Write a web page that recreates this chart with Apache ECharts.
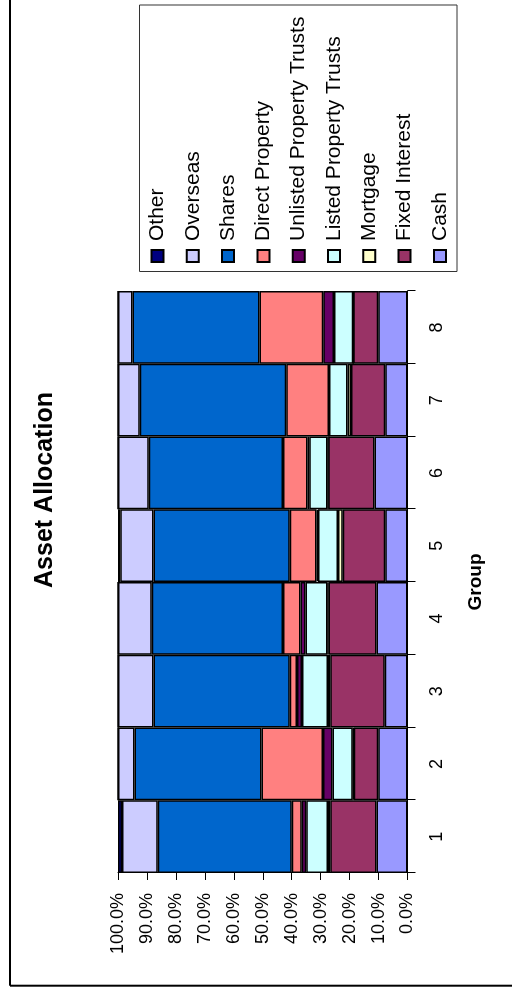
<!DOCTYPE html>
<html>
<head>
<meta charset="utf-8">
<script src="https://cdn.jsdelivr.net/npm/echarts@6/dist/echarts.min.js"></script>
<style>
  html, body { margin: 0; padding: 0; background: #ffffff; overflow: hidden; }
  #stage { position: absolute; left: 0; top: 0; width: 512px; height: 989px; overflow: hidden; }
  /* the chart is laid out landscape and turned a quarter turn anticlockwise */
  #chart {
    position: absolute; left: 0; top: 0;
    width: 989px; height: 512px;
    transform-origin: 0 0;
    transform: translate(0px, 989px) rotate(-90deg);
  }
</style>
</head>
<body>
<div id="stage"><div id="chart"></div></div>
<script>
// Asset allocation per group, in percent of the total
const categories = ['1', '2', '3', '4', '5', '6', '7', '8'];
const cash           = [10.7, 10.1,  7.9, 10.7,  7.7, 11.4,  7.7, 10.1];
const fixedInterest  = [16.0,  8.5, 18.8, 16.6, 14.7, 16.0, 11.8,  8.6];
const mortgage       = [ 0.8,  0.3,  0.8,  0.3,  1.6,  0.2,  1.2,  0.0];
const listedPT       = [ 7.5,  7.0,  8.9,  7.6,  6.9,  6.3,  6.4,  6.7];
const unlistedPT     = [ 1.5,  3.3,  1.8,  1.8,  0.5,  0.6,  0.0,  3.7];
const directProperty = [ 3.5, 21.2,  2.5,  6.0,  9.3,  8.5, 14.8, 22.0];
const shares         = [46.3, 43.9, 47.0, 45.3, 47.0, 46.4, 50.6, 43.9];
const overseas       = [12.3,  5.7, 12.3, 11.7, 11.5, 10.6,  7.5,  5.0];
const other          = [ 1.4,  0.0,  0.0,  0.0,  0.8,  0.0,  0.0,  0.0];
const valueTicks = [0, 10, 20, 30, 40, 50, 60, 70, 80, 90, 100];

const FONT = '"Liberation Sans", Arial, sans-serif';

// stacking order, bottom to top
const seriesDefs = [
  { name: 'Cash', data: cash, color: '#9999FF' },
  { name: 'Fixed Interest', data: fixedInterest, color: '#993366' },
  { name: 'Mortgage', data: mortgage, color: '#FFFFCC' },
  { name: 'Listed Property Trusts', data: listedPT, color: '#CCFFFF' },
  { name: 'Unlisted Property Trusts', data: unlistedPT, color: '#660066' },
  { name: 'Direct Property', data: directProperty, color: '#FF8080' },
  { name: 'Shares', data: shares, color: '#0066CC' },
  { name: 'Overseas', data: overseas, color: '#CCCCFF' },
  { name: 'Other', data: other, color: '#000080' }
];

const chart = echarts.init(document.getElementById('chart'), null, { renderer: 'canvas' });

chart.setOption({
  backgroundColor: '#ffffff',
  animation: false,
  textStyle: { fontFamily: FONT },
  grid: { left: 116, top: 118, width: 582, height: 289.5, containLabel: false },
  xAxis: {
    type: 'category',
    data: categories,
    name: 'Group',
    nameLocation: 'middle',
    nameGap: 59,
    nameTextStyle: { fontFamily: FONT, fontSize: 19, fontWeight: 'bold', color: '#000' },
    axisLine: { show: true, lineStyle: { color: '#000', width: 1 } },
    axisTick: { show: true, length: 8, lineStyle: { color: '#000' } },
    axisLabel: { margin: 21, fontFamily: FONT, fontSize: 18, color: '#000' },
    splitLine: { show: false }
  },
  yAxis: {
    type: 'value',
    min: valueTicks[0],
    max: valueTicks[valueTicks.length - 1],
    interval: 10,
    axisLine: { show: true, lineStyle: { color: '#000', width: 1 } },
    axisTick: { show: true, length: 7, lineStyle: { color: '#000' } },
    axisLabel: {
      margin: 20, fontFamily: FONT, fontSize: 18, color: '#000',
      formatter: v => v.toFixed(1) + '%'
    },
    splitLine: { show: false }
  },
  legend: {
    orient: 'vertical',
    left: 726,
    top: 147,
    padding: 0,
    itemGap: 14.3,
    itemWidth: 12,
    itemHeight: 12,
    icon: 'rect',
    data: seriesDefs.map(s => s.name).reverse(),
    textStyle: { fontFamily: FONT, fontSize: 21, lineHeight: 21, color: '#000', padding: [0, 0, 0, 4] }
  },
  graphic: [
    // chart area frame
    { type: 'line', shape: { x1: 3.3, y1: 10, x2: 989, y2: 10 }, style: { stroke: '#000', lineWidth: 2 } },
    { type: 'line', shape: { x1: 3.3, y1: 10, x2: 3.3, y2: 512 }, style: { stroke: '#000', lineWidth: 2 } },
    // legend frame
    { type: 'rect', shape: { x: 717.5, y: 139.5, width: 266.5, height: 317.5 }, style: { fill: 'none', stroke: '#333', lineWidth: 1 }, z: -1 },
    // title
    { type: 'text', x: 499, y: 45, style: {
        text: 'Asset Allocation', font: 'bold 25px ' + FONT, fill: '#000',
        textAlign: 'center', textVerticalAlign: 'middle' } }
  ],
  series: seriesDefs.map(s => ({
    name: s.name,
    type: 'bar',
    stack: 'total',
    data: s.data,
    barCategoryGap: '0%',
    itemStyle: { color: s.color, borderColor: '#000', borderWidth: 1.5 },
    emphasis: { disabled: true }
  }))
});
</script>
</body>
</html>
